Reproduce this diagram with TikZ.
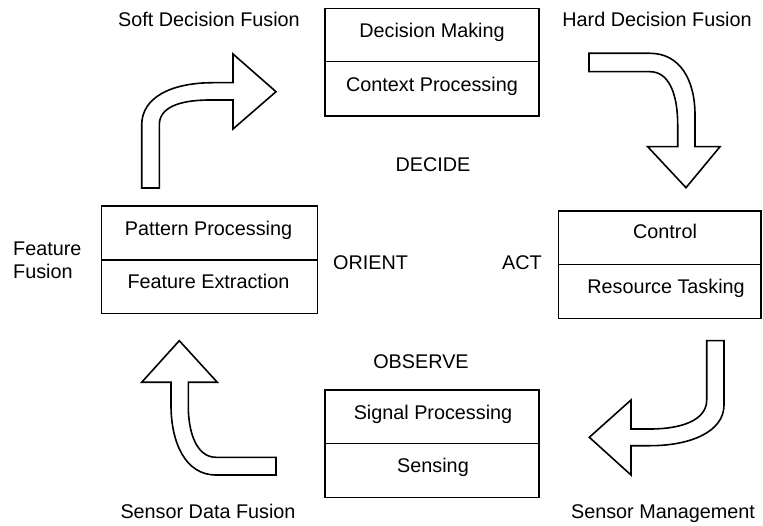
\documentclass[tikz,border=0pt]{standalone}
\usepackage{fontspec}
\setmainfont{Liberation Sans}
\tikzset{
  cell/.style={draw, line width=1.5pt, inner sep=0pt, outer sep=0pt, rectangle},
  lbl/.style={anchor=base, inner sep=0pt, font=\fontsize{19.8}{23}\selectfont},
  bigarrow/.style={draw, line width=1.6pt, line join=miter, fill=white},
}
\begin{document}
\begin{tikzpicture}[x=1pt, y=-1pt]
\useasboundingbox (0,0) rectangle (763,526);

% ---- DECIDE box ----
\node[cell, minimum width=214pt, minimum height=53.4pt] (decA) at (432,35) {};
\node[cell, minimum width=214pt, minimum height=54.3pt] (decB) at (432,88.85) {};
\node[lbl] (dm) at (432,37.3) {Decision Making};
\node[lbl] (cp) at (432,92) {Context Processing};

% ---- ORIENT box ----
\node[cell, minimum width=216pt, minimum height=54pt] (oriA) at (209.7,233) {};
\node[cell, minimum width=216pt, minimum height=53.3pt] (oriB) at (209.7,286.65) {};
\node[lbl] (pp) at (208.5,235.7) {Pattern Processing};
\node[lbl] (fe) at (208.5,289) {Feature Extraction};

% ---- ACT box ----
\node[cell, minimum width=202.7pt, minimum height=53.3pt] (actA) at (659.65,237.65) {};
\node[cell, minimum width=202.7pt, minimum height=54pt] (actB) at (659.65,291.3) {};
\node[lbl] (ctl) at (665,238.3) {Control};
\node[lbl] (rt) at (666,294) {Resource Tasking};

% ---- OBSERVE box ----
\node[cell, minimum width=214pt, minimum height=53.3pt] (obsA) at (432,416.65) {};
\node[cell, minimum width=214pt, minimum height=54pt] (obsB) at (432,470.3) {};
\node[lbl] (sp) at (433,419) {Signal Processing};
\node[lbl] (sn) at (433,472.7) {Sensing};

% ---- phase names ----
\node[lbl] (decide) at (433,171.7) {DECIDE};
\node[lbl] (orient) at (370.5,270) {ORIENT};
\node[lbl] (act) at (522,270) {ACT};
\node[lbl] (observe) at (421,369) {OBSERVE};

% ---- fusion labels ----
\node[lbl] (soft) at (209,27) {Soft Decision Fusion};
\node[lbl] (hard) at (657,27) {Hard Decision Fusion};
\node[lbl, anchor=base west, align=left] (feat) at (13,279) {Feature\\Fusion};
\node[lbl] (sdf) at (208,518) {Sensor Data Fusion};
\node[lbl] (sm) at (663,518) {Sensor Management};

% ---- bent block arrows ----
% orient -> decide
\path[bigarrow] (141.7,188) -- (159.3,188) -- (159.3,125)
  .. controls (159.3,108) and (178,100) .. (210,100)
  -- (233,100) -- (233,129) -- (276,91.7) -- (233,54) -- (233,82.7)
  -- (213,82.7) .. controls (172,82.7) and (141.7,97) .. (141.7,125) -- cycle;

% decide -> act
\path[bigarrow] (589,53.3) -- (650,53.3)
  .. controls (680,53.3) and (695,80) .. (695,115)
  -- (695,146.7) -- (720,146.7) -- (686,187.7) -- (647.7,146.7) -- (677.7,146.7)
  -- (677.7,125) .. controls (677.7,92) and (668,71.7) .. (650,71.7)
  -- (589,71.7) -- cycle;

% act -> observe
\path[bigarrow] (706.7,340.7) -- (724,340.7) -- (724,405)
  .. controls (724,432) and (690,445.7) .. (650,445.7)
  -- (631,445.7) -- (631,475) -- (589.3,437.3) -- (631,400) -- (631,429)
  -- (650,429) .. controls (682,429) and (706.7,420) .. (706.7,400) -- cycle;

% observe -> orient
\path[bigarrow] (179.3,340.7) -- (217.3,382.3) -- (188.3,382.3) -- (188.3,410)
  .. controls (189.5,440) and (200,457.3) .. (216,457.3)
  -- (276,457.3) -- (276,475) -- (216,475)
  .. controls (185,475) and (171,442) .. (171,405)
  -- (171,382.3) -- (141.7,382.3) -- cycle;
\end{tikzpicture}
\end{document}
